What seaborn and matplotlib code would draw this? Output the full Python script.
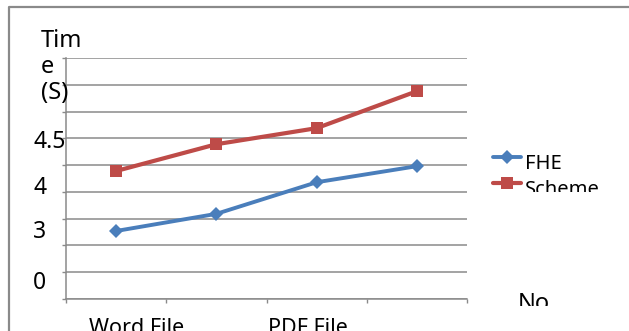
import matplotlib
matplotlib.use("Agg")
import matplotlib.pyplot as plt
from matplotlib.lines import Line2D
from matplotlib.transforms import Bbox, TransformedBbox
import numpy as np
import pandas as pd
import seaborn as sns

# Encryption time per file, two schemes
file_index = [0, 1, 2, 3]
fhe_time = [1.27, 1.59, 2.18, 2.48]
scheme_time = [2.39, 2.89, 3.19, 3.88]
series_names = ["FHE", "Scheme"]

xtick_labels = ["Word File", "PDF File"]
xtick_pos = [0.2, 1.91]
ytick_labels = ["4.5", "4", "3", "0"]
ytick_pos = [2.98, 2.13, 1.30, 0.36]
y_title = "Tim\ne\n(S)"
x_title = "No"

df = pd.DataFrame({
    "file": file_index * 2,
    "time": fhe_time + scheme_time,
    "series": [series_names[0]] * len(fhe_time) + [series_names[1]] * len(scheme_time),
})

sns.set_theme(style="white")
plt.rcParams["font.family"] = ["Noto Sans", "DejaVu Sans"]
plt.rcParams["text.color"] = "black"

W, H = 629, 331
grid_color = "#8a8a8a"
fig = plt.figure(figsize=(W / 100, H / 100), dpi=100)
fig.patch.set_facecolor("white")
ax = fig.add_axes([66 / W, (H - 299) / H, (467 - 66) / W, (299 - 58) / H])

palette = {"FHE": "#4A7EBB", "Scheme": "#BE4B48"}
sns.lineplot(data=df, x="file", y="time", hue="series", style="series",
             palette=palette, markers={"FHE": "D", "Scheme": "s"}, dashes=False,
             linewidth=3.0, markersize=9, markeredgewidth=0, legend=False, ax=ax)
fhe_line, scheme_line = ax.lines[0], ax.lines[1]
fhe_line.set_markersize(6.8)
fhe_line.set_linewidth(2.8)

ax.set_xlim(-0.5, 3.5)
ax.set_ylim(0, 4.5)
ax.set_xlabel("")
ax.set_ylabel("")

ax.set_yticks(np.arange(0, 4.51, 0.5), minor=True)
ax.set_yticks(ytick_pos, ytick_labels)
ax.set_xticks(np.arange(-0.5, 3.51, 1), minor=True)
ax.set_xticks(xtick_pos, xtick_labels)

ax.grid(False)
ax.grid(True, which="minor", axis="y", color=grid_color, linewidth=1.1)
ax.tick_params(which="major", length=0, labelcolor="black")
ax.tick_params(axis="y", which="major", pad=23.5, labelsize=16.5)
ax.tick_params(axis="x", which="major", pad=13.5, labelsize=15.5)
ax.tick_params(which="minor", length=3, width=1, color=grid_color, left=True, bottom=True)
for lbl in ax.get_yticklabels():
    lbl.set_horizontalalignment("left")

for side in ("top", "right"):
    ax.spines[side].set_visible(False)
for side in ("left", "bottom"):
    ax.spines[side].set_color(grid_color)
    ax.spines[side].set_linewidth(1.1)

# outer frame
fig.add_artist(Line2D([9 / W, 9 / W, 1], [0, 1 - 7 / H, 1 - 7 / H],
                      transform=fig.transFigure, color=grid_color, linewidth=1.6))

fig.text(41 / W, 1 - 29 / H, y_title, ha="left", va="top", fontsize=17, linespacing=1.12)


def clip_below(artist, y_px):
    """Hide the part of an artist lying below the given pixel row."""
    artist.set_clip_box(TransformedBbox(Bbox.from_extents(0, (H - y_px) / H, 1, 1),
                                        fig.transFigure))
    artist.set_clip_on(True)


no_txt = fig.text(518 / W, 1 - 292 / H, x_title, ha="left", va="top", fontsize=17)
clip_below(no_txt, 306)

# legend entries, the box is cut just under the second label
for i, (line, name) in enumerate(zip([fhe_line, scheme_line], series_names)):
    yc = 1 - (157 + 26 * i) / H
    fig.add_artist(Line2D([493 / W, 521 / W], [yc, yc], transform=fig.transFigure,
                          color=line.get_color(), linewidth=line.get_linewidth()))
    fig.add_artist(Line2D([507 / W], [yc], transform=fig.transFigure, linestyle="none",
                          marker=line.get_marker(), markersize=line.get_markersize(),
                          markeredgewidth=0, color=line.get_color()))
    t = fig.text(525 / W, 1 - (169 + 26 * i) / H, name, ha="left", va="baseline",
                 fontsize=14.5)
    clip_below(t, 192)

fig.savefig("out.png", dpi=100, facecolor="white")
